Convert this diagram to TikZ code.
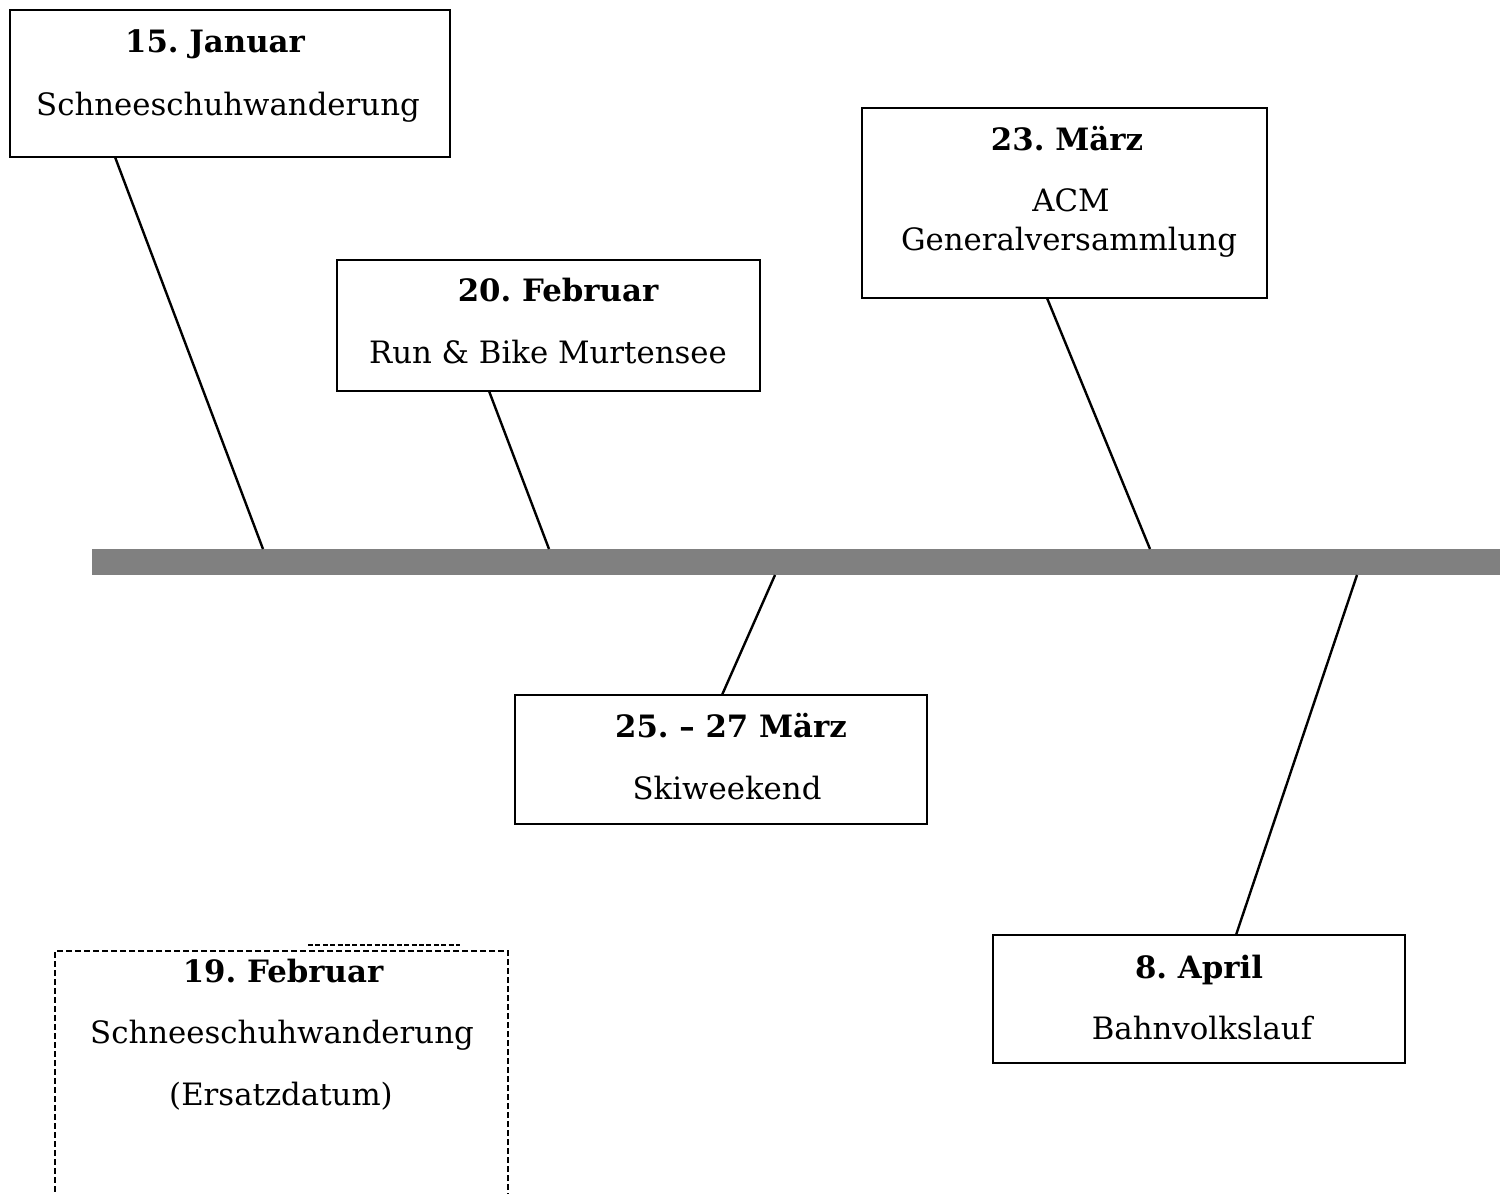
\documentclass[tikz,border=0pt]{standalone}
\usepackage{fontspec}
\setmainfont{DejaVu Serif}
\usepackage{tikz}
\usetikzlibrary{positioning}

\newcommand{\evsize}{\fontsize{15.4pt}{18pt}\selectfont\frenchspacing}

\tikzset{
  evbox/.style={draw, line width=1.2pt, inner sep=0pt},
  ersatzbox/.style={draw, line width=1.2pt, dash pattern=on 3pt off 1.5pt, inner sep=0pt},
  datum/.style={font=\evsize\bfseries, inner sep=0pt, anchor=base},
  anlass/.style={font=\evsize, inner sep=0pt, anchor=base},
  stiel/.style={line width=1.2pt},
}

\begin{document}
\begin{tikzpicture}[x=0.5pt, y=-0.5pt]
            \useasboundingbox (0,0) rectangle (1500,1194);

            % Zeitachse
            \fill[gray] (92,549) rectangle (1500,575);

            % Anlaesse oberhalb
            \draw (230,83.5) node[evbox, minimum width=220pt, minimum height=73.5pt]     (jan) {};
            \node[datum]  (jan-d) at (215,53)  {15. Januar};
            \node[anlass] (jan-a) at (228,115) {Schneeschuhwanderung};

            \draw (548.5,325.5) node[evbox, minimum width=211.5pt, minimum height=65.5pt] (feb) {};
            \node[datum]  (feb-d) at (558,301)  {20. Februar};
            \node[anlass] (feb-a) at (548,363)  {Run \& Bike Murtensee};

            \draw (1064.5,203) node[evbox, minimum width=202.5pt, minimum height=95pt]   (gv) {};
            \node[datum]  (gv-d)  at (1067,150) {23. März};
            \node[anlass] (gv-a)  at (1071,211) {ACM};
            \node[anlass] (gv-b)  at (1069,250) {Generalversammlung};

            % Anlaesse unterhalb
            \draw (721,759.5) node[evbox, minimum width=206pt, minimum height=64.5pt]     (ski) {};
            \node[datum]  (ski-d) at (731,737)  {25. – 27 März};
            \node[anlass] (ski-a) at (727,799)  {Skiweekend};

            \draw (1199,999) node[evbox, minimum width=206pt, minimum height=64pt]        (bvl) {};
            \node[datum]  (bvl-d) at (1199,978)  {8. April};
            \node[anlass] (bvl-a) at (1202,1039) {Bahnvolkslauf};

            \draw (281.5,1100.5) node[ersatzbox, minimum width=226.5pt, minimum height=149.5pt] (ers) {};
            \draw[line width=0.8pt, dash pattern=on 2.5pt off 1.2pt] (308,945) -- (460,945);
            \node[datum]  (ers-d) at (283,982)  {19. Februar};
            \node[anlass] (ers-a) at (282,1043) {Schneeschuhwanderung};
            \node[anlass] (ers-b) at (281,1105) {(Ersatzdatum)};

            % Stiele
            \coordinate (jan-o) at (115,157);   \coordinate (jan-u) at (263,549);
            \coordinate (feb-o) at (489,391);   \coordinate (feb-u) at (549,549);
            \coordinate (gv-o)  at (1047,298);  \coordinate (gv-u)  at (1150,549);
            \coordinate (ski-o) at (775,575);   \coordinate (ski-u) at (722,695);
            \coordinate (bvl-o) at (1357,575);  \coordinate (bvl-u) at (1236,935);
            \draw[stiel] (jan-o) -- (jan-u);
            \draw[stiel] (feb-o) -- (feb-u);
            \draw[stiel] (gv-o)  -- (gv-u);
            \draw[stiel] (ski-o) -- (ski-u);
            \draw[stiel] (bvl-o) -- (bvl-u);

\end{tikzpicture}
\end{document}
